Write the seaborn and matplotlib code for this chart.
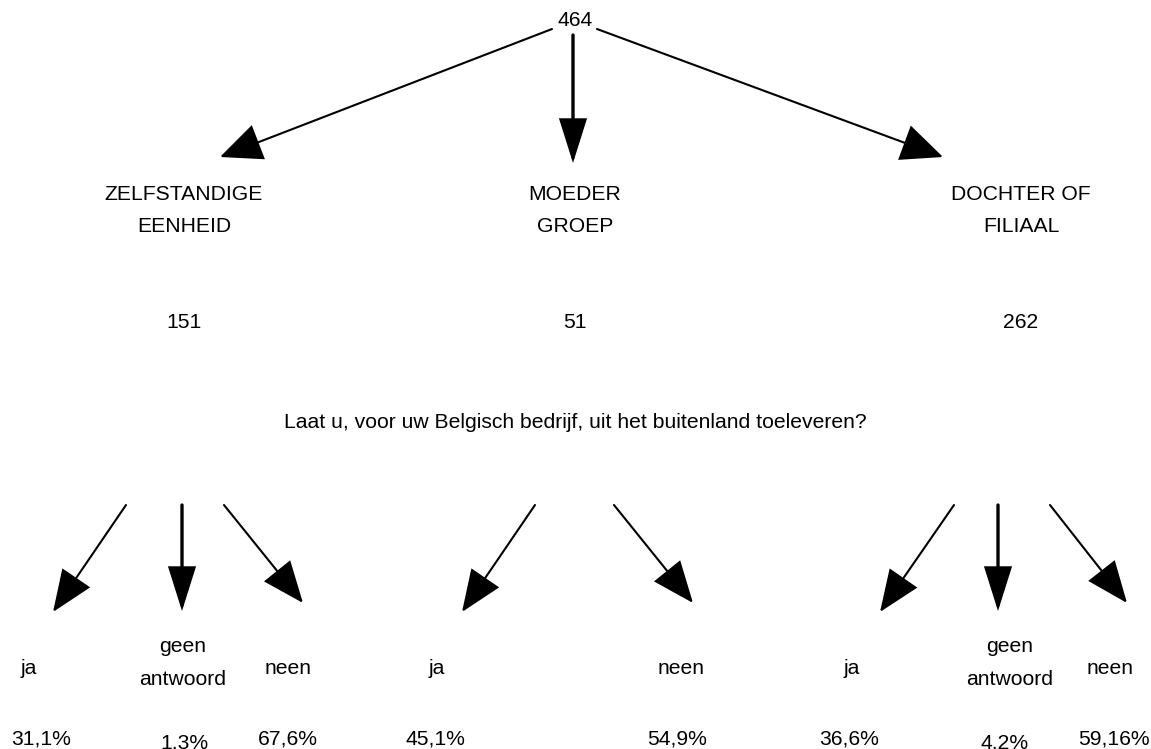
import matplotlib
matplotlib.use("Agg")
import matplotlib.pyplot as plt
import seaborn as sns

# ---- data ----
total = 464
groups = ["ZELFSTANDIGE\nEENHEID", "MOEDER\nGROEP", "DOCHTER OF\nFILIAAL"]
group_counts = [151, 51, 262]
question = "Laat u, voor uw Belgisch bedrijf, uit het buitenland toeleveren?"
answers = [["ja", "geen\nantwoord", "neen"],
           ["ja", "neen"],
           ["ja", "geen\nantwoord", "neen"]]
percents = [["31,1%", "1,3%", "67,6%"],
            ["45,1%", "54,9%"],
            ["36,6%", "4,2%", "59,16%"]]

# ---- layout (pixel coordinates, y downwards) ----
W, H = 1151, 749
sns.set_theme(style="white")
plt.rcParams['font.family'] = ['Liberation Sans', 'DejaVu Sans']
fig = plt.figure(figsize=(W / 100, H / 100), dpi=100)
ax = fig.add_axes([0, 0, 1, 1])
ax.set_xlim(0, W)
ax.set_ylim(H, 0)
ax.axis("off")

FS = 15.2
TXT = dict(ha="center", va="center", fontsize=FS, color="black")

def arrow(x0, y0, x1, y1, lw=1.3, hl=26, hw=10):
    ax.annotate("", xy=(x1, y1), xytext=(x0, y0),
                arrowprops=dict(arrowstyle=f"-|>,head_length={hl},head_width={hw}",
                                mutation_scale=1, lw=lw, color="black",
                                shrinkA=0, shrinkB=0, joinstyle="miter"))

def lines(x, y, text, gap):
    parts = text.split("\n")
    y0 = y - gap * (len(parts) - 1) / 2
    for i, p in enumerate(parts):
        ax.text(x, y0 + i * gap, p, **TXT)

# root
ax.text(575, 21, str(total), **TXT)
group_x = [184, 575, 1021]
arrow(552, 29, 220, 157, lw=1.5, hl=27, hw=12)
arrow(573, 35, 573, 163, lw=2.4, hl=27, hw=8.5)
arrow(597, 29, 943, 157, lw=1.5, hl=27, hw=12)

for gx, name, cnt in zip(group_x, groups, group_counts):
    lines(gx, 211, name, 32)
    ax.text(gx, 323, str(cnt), **TXT)

ax.text(575, 422, question, **TXT)

# answer arrows per group: (start, end)
answer_arrows = [
    [((126, 505), (53, 612)), ((182, 505), (182, 611)), ((224, 505), (303, 603))],
    [((535, 505), (462, 612)), ((614, 505), (693, 603))],
    [((954, 505), (880, 612)), ((998, 505), (998, 611)), ((1050, 505), (1127, 603))],
]
label_x = [[29, 183, 288], [437, 681], [852, 1010, 1110]]
pct_x = [[41, 184, 288], [435, 677], [849, 1005, 1114]]

for arrs, labs, pcts, lx, px in zip(answer_arrows, answers, percents, label_x, pct_x):
    for (s, e), lab, pct, x_l, x_p in zip(arrs, labs, pcts, lx, px):
        vertical = s[0] == e[0]
        arrow(s[0], s[1], e[0], e[1], lw=2.4 if vertical else 1.5, hl=27,
              hw=8.5 if vertical else 11)
        if "\n" in lab:
            lines(x_l, 663, lab, 33)
            ax.text(x_p, 743, pct, **TXT)
        else:
            ax.text(x_l, 668, lab, **TXT)
            ax.text(x_p, 739, pct, **TXT)

fig.savefig("out.png", dpi=100, facecolor="white")
